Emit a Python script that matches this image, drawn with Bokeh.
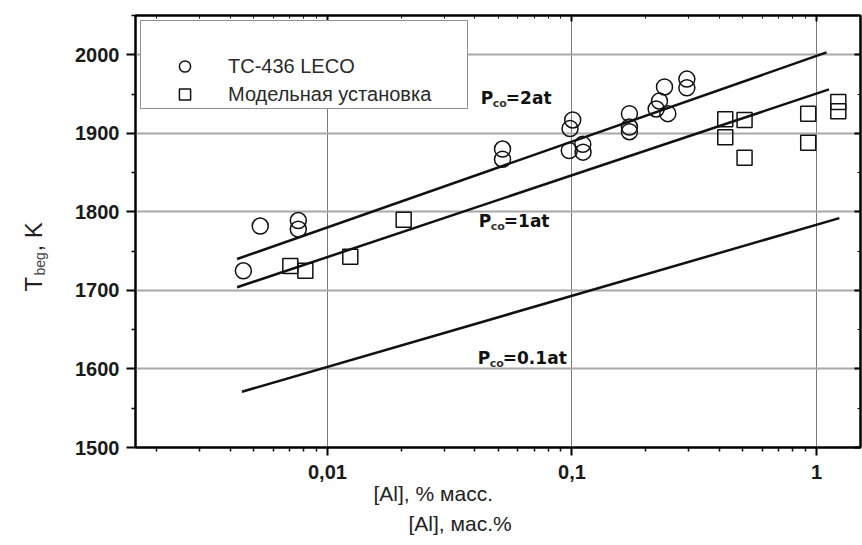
import math
from bokeh.plotting import figure
from bokeh.layouts import row
from bokeh.models import (FixedTicker, LogAxis, LinearAxis, Range1d, Legend,
                          LegendItem, Label, Title)
from bokeh.embed import file_html
from bokeh.resources import INLINE

# Start-of-reaction temperature vs. aluminium content, TC-436 LECO analyser
leco_al = [0.00453, 0.00531, 0.0076, 0.0076, 0.0520, 0.0520, 0.1007, 0.0982,
           0.0975, 0.1107, 0.111, 0.1718, 0.1718, 0.1718, 0.239, 0.228, 0.221,
           0.2466, 0.295, 0.295]
leco_t = [1725, 1782, 1789, 1778, 1880, 1867, 1917, 1906, 1878, 1886, 1876,
          1925, 1908, 1902, 1959, 1941, 1931, 1925, 1969, 1958]

# Same quantity measured on the model installation
model_al = [0.00705, 0.00812, 0.0124, 0.0205, 0.4236, 0.4236, 0.508, 0.508,
            0.925, 0.925, 1.228, 1.228]
model_t = [1731, 1725, 1743, 1790, 1918, 1895, 1917, 1869, 1925, 1888, 1940,
           1928]

# Calculated equilibrium lines for several CO partial pressures
pco_names = ["=2at", "=1at", "=0.1at"]
pco_al = [[0.00427, 1.099], [0.00427, 1.125], [0.00447, 1.24]]
pco_t = [[1740, 2003], [1704, 1956], [1571, 1792]]
pco_label_al = [0.0424, 0.0416, 0.0412]
pco_label_t = [1945, 1789, 1614]

x_ticks = [0.01, 0.1, 1]
x_tick_labels = ["0,01", "0,1", "1"]
x_minor = [m * 10.0 ** e for e in (-3, -2, -1, 0) for m in range(2, 10)]
y_ticks = [1500, 1600, 1700, 1800, 1900, 2000]
y_minor = [1550, 1650, 1750, 1850, 1950, 2050]

X_MIN, X_MAX = 10 ** -2.785, 10 ** 0.180
Y_MIN, Y_MAX = 1500, 2050

SANS = "Liberation Sans"
H = 545
STRIP_W = 60   # narrow strip holding the rotated y-axis title

p = figure(width=862 - STRIP_W, height=H, x_axis_type="log",
           x_range=Range1d(X_MIN, X_MAX), y_range=Range1d(Y_MIN, Y_MAX),
           output_backend="svg", toolbar_location=None,
           min_border_left=135 - STRIP_W, min_border_right=2,
           min_border_top=15, min_border_bottom=98)
p.background_fill_color = "white"
p.border_fill_color = "white"
p.outline_line_color = "black"
p.outline_line_width = 2

# grid
p.xgrid.ticker = FixedTicker(ticks=x_ticks)
p.ygrid.ticker = FixedTicker(ticks=y_ticks[1:])
p.xgrid.grid_line_color = "#7a7a7a"
p.xgrid.grid_line_width = 1
p.ygrid.grid_line_color = "#a8a8a8"
p.ygrid.grid_line_width = 2

# bottom and left axes
xa = p.xaxis[0]
xa.ticker = FixedTicker(ticks=x_ticks, minor_ticks=x_minor)
xa.major_label_overrides = dict(zip(x_ticks, x_tick_labels))
ya = p.yaxis[0]
ya.ticker = FixedTicker(ticks=y_ticks, minor_ticks=y_minor)
for ax in (xa, ya):
    ax.axis_line_width = 2
    ax.axis_line_color = "black"
    ax.major_tick_line_width = 2
    ax.minor_tick_line_width = 1.5
    ax.major_tick_in = 0
    ax.minor_tick_in = 0
    ax.minor_tick_out = 4
    ax.major_label_text_font = SANS
    ax.major_label_text_font_style = "bold"
    ax.major_label_text_font_size = "20px"
    ax.major_label_text_color = "#1a1a1a"
xa.major_tick_out = 8
xa.major_label_standoff = 9
ya.major_tick_out = 9
ya.major_label_standoff = 7

# top and right frame axes with inward ticks, no visible labels
top = LogAxis(ticker=FixedTicker(ticks=x_ticks, minor_ticks=x_minor))
right = LinearAxis(ticker=FixedTicker(ticks=y_ticks, minor_ticks=y_minor))
for ax in (top, right):
    ax.axis_line_width = 2
    ax.major_tick_in = 6
    ax.major_tick_out = 0
    ax.minor_tick_in = 3
    ax.minor_tick_out = 0
    ax.major_tick_line_width = 2
    ax.major_label_text_font_size = "1px"
    ax.major_label_text_alpha = 0
    ax.major_label_standoff = 0
p.add_layout(top, "above")
p.add_layout(right, "right")

# x axis titles (two lines under the axis)
p.add_layout(Title(text="[Al], % масс.", align="left", offset=238,
                   vertical_align="top", standoff=0, text_font=SANS,
                   text_font_size="21px", text_font_style="normal",
                   text_color="#222222"), "below")
p.add_layout(Title(text="[Al], мас.%", align="left", offset=273,
                   vertical_align="top", standoff=10, text_font=SANS,
                   text_font_size="21px", text_font_style="normal",
                   text_color="#222222"), "below")

# calculated lines
for xs, ts in zip(pco_al, pco_t):
    p.line(xs, ts, line_color="#111111", line_width=2.5)

# measured points
circ = p.scatter(leco_al, leco_t, marker="circle", size=16,
                 fill_color=None, line_color="#111111", line_width=1.5)
sq = p.scatter(model_al, model_t, marker="square", size=15,
               fill_color=None, line_color="#111111", line_width=1.5)

# P_co labels next to each line
LBL = "DejaVu Sans"
for name, lx, lt in zip(pco_names, pco_label_al, pco_label_t):
    p.add_layout(Label(x=lx, y=lt, text="P", text_font=LBL,
                       text_font_style="bold", text_font_size="17px",
                       text_color="#111111", text_baseline="alphabetic"))
    p.add_layout(Label(x=lx, y=lt, x_offset=12, y_offset=-6, text="co",
                       text_font=LBL, text_font_style="bold",
                       text_font_size="11px", text_color="#333333",
                       text_baseline="alphabetic"))
    p.add_layout(Label(x=lx, y=lt, x_offset=25, text=name, text_font=LBL,
                       text_font_style="bold", text_font_size="17px",
                       text_color="#111111", text_baseline="alphabetic"))

# legend
legend = Legend(items=[LegendItem(label="TC-436 LECO", renderers=[circ]),
                       LegendItem(label="Модельная установка", renderers=[sq])],
                location="top_left", margin=5, padding=0,
                glyph_width=87, glyph_height=28, spacing=0,
                label_standoff=0, label_width=239,
                label_text_font=SANS, label_text_font_size="20px",
                label_text_color="#2a2a2a",
                title=" ", title_text_font_size="20px", title_standoff=8,
                border_line_color="#222222", border_line_width=1.5,
                background_fill_color="white", background_fill_alpha=1)
p.add_layout(legend, "center")

# strip to the left of the plot carrying the y-axis title T_beg, K;
# its frame fills the whole strip so data units equal pixels
ylab = figure(frame_width=STRIP_W, frame_height=H, x_range=Range1d(0, STRIP_W),
              y_range=Range1d(0, H), output_backend="svg",
              toolbar_location=None, x_axis_location=None,
              y_axis_location=None, min_border_left=0, min_border_right=0,
              min_border_top=0, min_border_bottom=0)
ylab.outline_line_color = None
ylab.grid.visible = False
ylab.background_fill_color = "white"
ylab.border_fill_color = "white"


def strip_text(text, x, y_from_top, size, color="#222222"):
    ylab.add_layout(Label(x=x, y=H - y_from_top, text=text,
                          angle=math.pi / 2, text_font=SANS,
                          text_font_size=size, text_color=color,
                          text_baseline="alphabetic"))


strip_text("T", 33, 276, "24px")
strip_text("beg", 39, 260, "14px", color="#444444")
strip_text(", K", 33, 236, "24px")

layout = row(ylab, p, spacing=0)
open("out.html", "w").write(file_html(layout, INLINE))
